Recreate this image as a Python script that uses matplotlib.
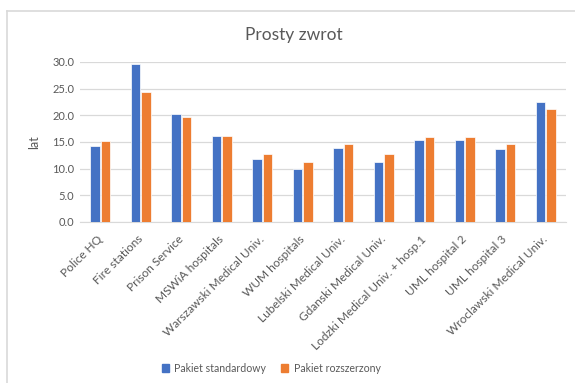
import matplotlib
matplotlib.use("Agg")
import matplotlib.pyplot as plt
import numpy as np
from matplotlib.lines import Line2D

categories = ["Police HQ", "Fire stations", "Prison Service", "MSWiA hospitals",
              "Warszawski Medical Univ.", "WUM hospitals", "Lubelski Medical Univ.",
              "Gdanski Medical Univ.", "Lodzki Medical Univ. + hosp.1", "UML hospital 2",
              "UML hospital 3", "Wroclawski Medical Univ."]
standard = [14.2, 29.6, 20.2, 16.1, 11.9, 10.0, 13.8, 11.2, 15.4, 15.4, 13.7, 22.5]
extended = [15.2, 24.4, 19.7, 16.1, 12.7, 11.2, 14.7, 12.7, 15.9, 15.9, 14.7, 21.2]
yticks = [0, 5, 10, 15, 20, 25, 30]
series_names = ["Pakiet standardowy", "Pakiet rozszerzony"]

plt.rcParams['font.family'] = ['Lato', 'DejaVu Sans']
gray = '#595959'
blue = '#4472C4'
orange = '#ED7D31'

W, H = 575, 383
fig = plt.figure(figsize=(W/100, H/100), dpi=100)
ax = fig.add_axes([80/W, 1-222/H, (566-80)/W, (222-62)/H])

x = np.arange(len(categories))
bw = 0.23
ax.bar(x - bw/2 - 0.015, standard, bw, color=blue, edgecolor='white', linewidth=0.5, zorder=3)
ax.bar(x + bw/2 + 0.015, extended, bw, color=orange, edgecolor='white', linewidth=0.5, zorder=3)

ax.set_xlim(-0.5, len(categories)-0.5)
ax.set_ylim(0, 30)
ax.set_yticks(yticks)
ax.set_yticklabels([f"{v:.1f}" for v in yticks], color=gray, fontsize=8)
ax.yaxis.grid(True, color='#D9D9D9', linewidth=0.9, zorder=0)
ax.set_axisbelow(True)
for s in ['top', 'right', 'left']:
    ax.spines[s].set_visible(False)
ax.spines['bottom'].set_color('#D9D9D9')
ax.tick_params(axis='y', length=0, pad=4)
ax.tick_params(axis='x', length=0, pad=11)
ax.set_xticks(x)
ax.set_xticklabels(categories, rotation=45, ha='right', va='center', rotation_mode='anchor',
                   color=gray, fontsize=8.6)
ax.set_ylabel("lat", color=gray, fontsize=9, labelpad=9)

fig.text(294/W, 1-35/H, "Prosty zwrot", ha='center', va='center', fontsize=12.5, color=gray)

handles = [plt.Rectangle((0, 0), 1, 1, color=blue), plt.Rectangle((0, 0), 1, 1, color=orange)]
fig.legend(handles, series_names, loc='center', bbox_to_anchor=(271/W, 1-368/H), ncol=2,
           frameon=False, fontsize=7.6, labelcolor=gray, handlelength=0.7, handleheight=0.7,
           handletextpad=0.5, columnspacing=1.4)

# chart frame lines (left and top)
fig.add_artist(Line2D([7/W, 7/W], [0, 1-11/H], transform=fig.transFigure, color='#D9D9D9', linewidth=1.2))
fig.add_artist(Line2D([7/W, 1], [1-11/H, 1-11/H], transform=fig.transFigure, color='#D9D9D9', linewidth=1.2))

fig.savefig("out.png", dpi=100)
